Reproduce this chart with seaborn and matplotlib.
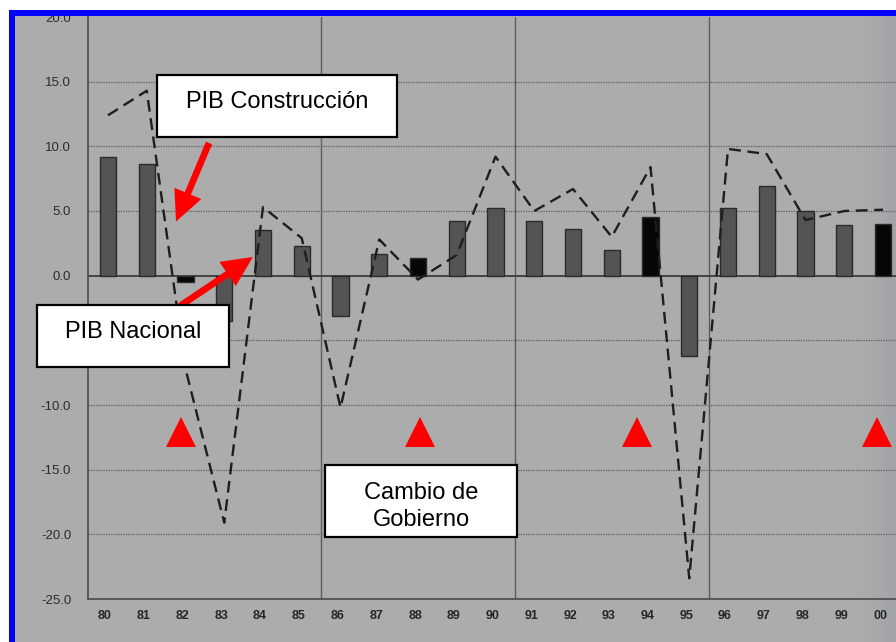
import numpy as np
import pandas as pd
import matplotlib
matplotlib.use("Agg")
import matplotlib.pyplot as plt
from matplotlib.patches import Rectangle
from matplotlib.transforms import ScaledTranslation
import seaborn as sns

# ---- data -------------------------------------------------------------
years = ["80", "81", "82", "83", "84", "85", "86", "87", "88", "89", "90",
         "91", "92", "93", "94", "95", "96", "97", "98", "99", "00"]
pib_nacional = [9.2, 8.6, -0.5, -3.5, 3.5, 2.3, -3.1, 1.7, 1.4, 4.2, 5.2,
                4.2, 3.6, 2.0, 4.5, -6.2, 5.2, 6.9, 5.0, 3.9, 4.0]
pib_construccion = [12.4, 14.3, -7.2, -19.1, 5.3, 2.9, -10.2, 2.8, -0.3, 1.6, 9.2,
                    5.0, 6.7, 3.0, 8.4, -23.4, 9.8, 9.4, 4.3, 5.0, 5.1]
cambio_gobierno = ["82", "88", "94", "00"]
y_ticks = [-25, -20, -15, -10, -5, 0, 5, 10, 15, 20]

# ---- figure geometry (pixels) -------------------------------------------
W, H, DPI = 896, 642, 100


def fx(px):
    return px / W


def fy(py):
    return 1 - py / H


sns.set_style("white")
plt.rcParams["font.family"] = ["Liberation Sans", "DejaVu Sans"]

fig = plt.figure(figsize=(W / DPI, H / DPI), dpi=DPI, facecolor="white")

# page background: scanned grey sheet, slightly darker toward the right edge
bg = fig.add_axes([0, 0, 1, 1], zorder=-10)
img = np.ones((H, W, 3))
grey = np.array([172, 172, 172]) / 255.0
shade = np.array([160, 164, 168]) / 255.0
cols = np.arange(W)
t = np.clip((cols - 855) / (W - 855), 0, 1) ** 1.5
row = grey[None, :] * (1 - t[:, None]) + shade[None, :] * t[:, None]
img[16:, 15:, :] = row[15:][None, :, :]
bg.imshow(img, aspect="auto", interpolation="nearest")
bg.axis("off")

# ---- main axes ----------------------------------------------------------
ax = fig.add_axes([fx(88), fy(599), fx(896) - fx(88), fy(17) - fy(599)])
ax.set_facecolor("none")

df = pd.DataFrame({"anio": years, "nacional": pib_nacional})
df["tipo"] = np.where(df["anio"].isin(cambio_gobierno), "cambio", "normal")

sns.barplot(data=df, x="anio", y="nacional", hue="tipo", order=years,
            palette={"normal": "#545454", "cambio": "#060606"},
            dodge=False, width=0.42, saturation=1, edgecolor="#2a2a2a",
            linewidth=1.0, legend=False, ax=ax, zorder=3)

pos = np.arange(len(years))
sns.lineplot(x=pos, y=pib_construccion, ax=ax, color="#1e1e1e", lw=1.7,
             linestyle=(0, (5.0, 2.8)), zorder=4)

# government-change markers
nudge = [-0.12, 0.05, -0.35, -0.15]
tri_x = [years.index(a) + d for a, d in zip(cambio_gobierno, nudge)]
ax.plot(tri_x, [-12.1] * len(tri_x), ls="none", marker="^", ms=22,
        color="#ff0000", markeredgewidth=0, zorder=5)

# grid
for v in y_ticks:
    if v in (0, -25, 20):
        continue
    ax.axhline(v, color="#5c5c5c", lw=0.9, ls=(0, (1, 1)), zorder=1)
ax.axhline(0, color="#3c3c3c", lw=1.3, zorder=2)
for v in (5.5, 10.5, 15.5):
    ax.axvline(v, color="#5e5e5e", lw=1.0, zorder=1)

ax.set_xlim((88 - 108) / 38.75, (896 - 108) / 38.75)
ax.set_ylim(-25, 20)

for s in ("top", "right"):
    ax.spines[s].set_visible(False)
for s in ("left", "bottom"):
    ax.spines[s].set_color("#4a4a4a")
    ax.spines[s].set_linewidth(1.2)

# the -5.0 label sits behind the "PIB Nacional" box, so it is left blank
ax.set_yticks(y_ticks)
ax.set_yticklabels(["" if v == -5 else f"{v:.1f}" for v in y_ticks])
ax.tick_params(axis="y", length=3.6, width=1, color="#707070", pad=8.5,
               labelsize=9.5, labelcolor="#2c2c2c")
ax.set_xticks(pos)
ax.set_xticklabels(years)
ax.tick_params(axis="x", length=0, pad=8, labelsize=9, labelcolor="#262626")
shift = ScaledTranslation(-0.03, 0, fig.dpi_scale_trans)
for lbl in ax.get_xticklabels():
    lbl.set_fontweight("bold")
    lbl.set_transform(lbl.get_transform() + shift)
ax.set_xlabel("")
ax.set_ylabel("")

# ---- arrows -------------------------------------------------------------
arrow = dict(arrowstyle="simple,head_length=1.1,head_width=1.05,tail_width=0.24",
             mutation_scale=20, color="#ff0000", lw=0, shrinkA=0, shrinkB=0)
ax.annotate("", xy=(1.755, 4.18), xycoords="data",
            xytext=(fx(209), fy(143)), textcoords="figure fraction",
            arrowprops=arrow, zorder=8)
ax.annotate("", xy=(3.74, 1.45), xycoords="data",
            xytext=(fx(180), fy(306)), textcoords="figure fraction",
            arrowprops=arrow, zorder=8)


# ---- label boxes ----------------------------------------------------------
def box(x0, y0, x1, y1):
    fig.add_artist(Rectangle((fx(x0), fy(y1)), fx(x1) - fx(x0), fy(y0) - fy(y1),
                             transform=fig.transFigure, facecolor="white",
                             edgecolor="black", lw=1.6, zorder=6))


box(157, 75, 397, 137)
fig.text(fx(277), fy(108), "PIB Construcción", ha="center", va="baseline",
         fontsize=17, color="black", zorder=7)
box(37, 305, 229, 367)
fig.text(fx(133), fy(338), "PIB Nacional", ha="center", va="baseline",
         fontsize=17, color="black", zorder=7)
box(325, 465, 517, 537)
fig.text(fx(421), fy(499), "Cambio de", ha="center", va="baseline",
         fontsize=17, color="black", zorder=7)
fig.text(fx(421), fy(526), "Gobierno", ha="center", va="baseline",
         fontsize=17, color="black", zorder=7)

# ---- blue frame over the page edge --------------------------------------
for (x0, y0, x1, y1, c) in [(0, 0, W, 10, "white"), (0, 0, 9, H, "white"),
                            (9, 10, W, 16, "#0000ff"), (9, 10, 15, H, "#0000ff")]:
    fig.add_artist(Rectangle((fx(x0), fy(y1)), fx(x1) - fx(x0), fy(y0) - fy(y1),
                             transform=fig.transFigure, facecolor=c,
                             edgecolor="none", zorder=9))

fig.savefig("out.png", dpi=DPI, facecolor="white")
